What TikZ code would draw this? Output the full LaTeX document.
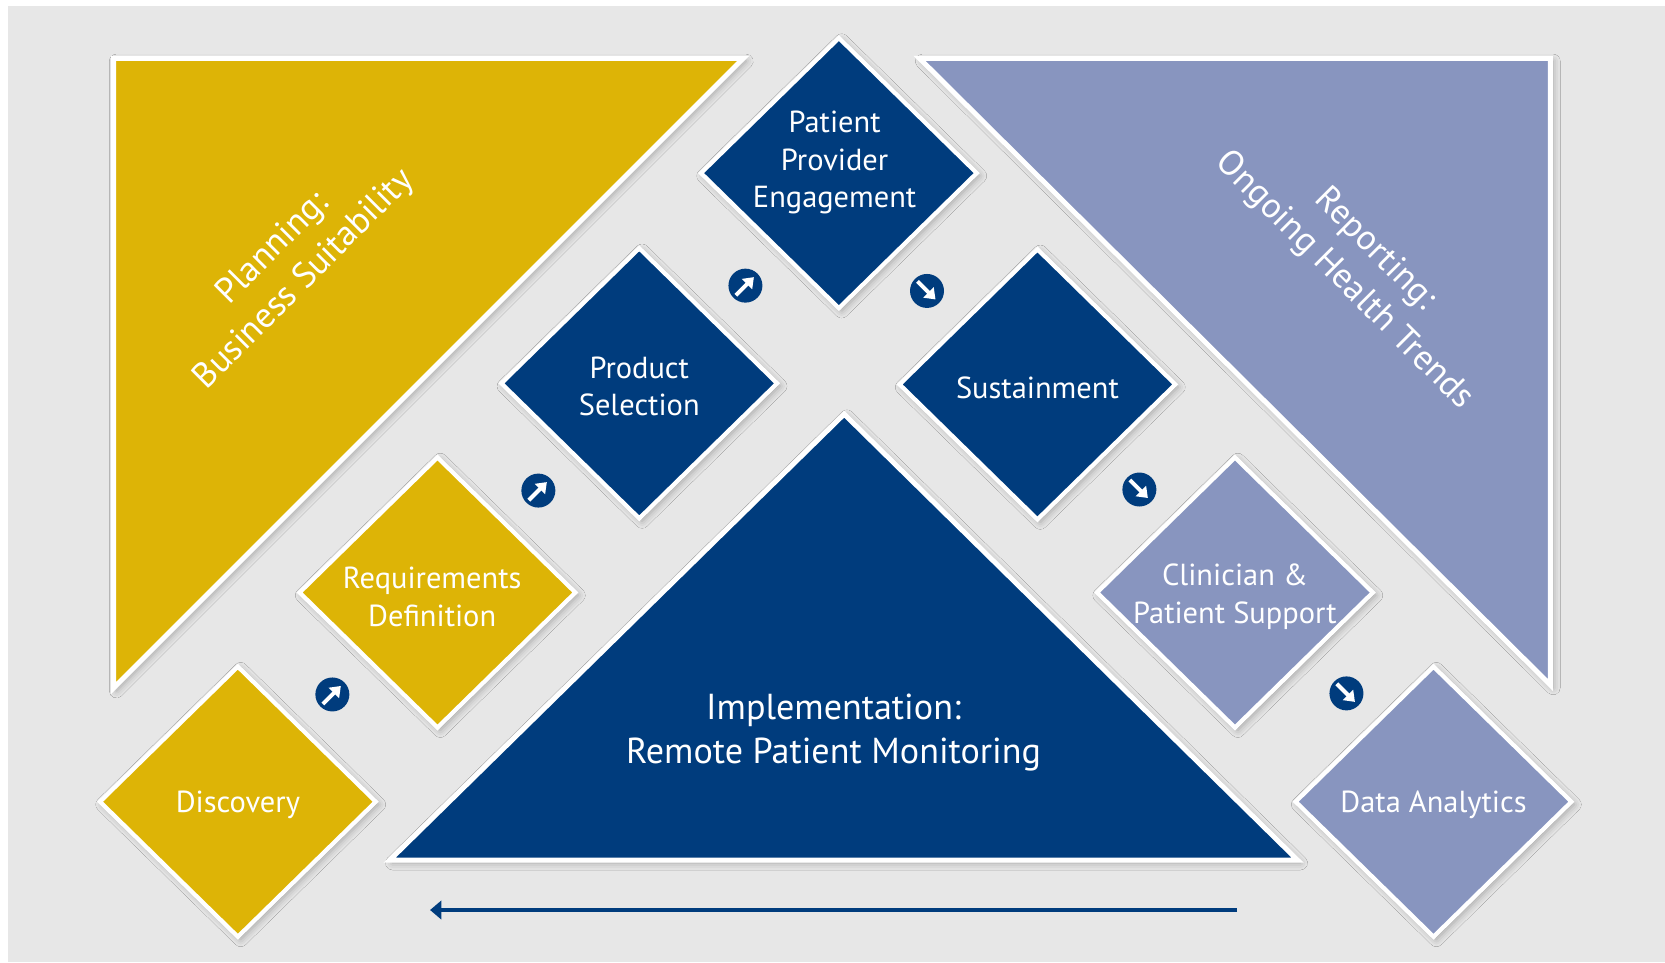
\documentclass[tikz,border=0pt]{standalone}
\usepackage{fontspec}
\setmainfont{PT Sans}
\usetikzlibrary{shapes.geometric,arrows.meta,shadows.blur,calc}

\definecolor{gold}{RGB}{221,180,6}
\definecolor{navy}{RGB}{0,60,125}
\definecolor{lilac}{RGB}{136,149,191}
\definecolor{paper}{RGB}{231,231,231}

\tikzset{every picture/.style={line width=0.75pt}}
\tikzset{
	softshade/.style={blur shadow={shadow xshift=2pt,shadow yshift=-2pt,shadow blur radius=5pt,shadow opacity=30}},
	field/.style={draw=white,line width=3.5pt,line join=miter,softshade},
	stage/.style={diamond,aspect=1,draw=white,line width=3pt,minimum width=196pt,minimum height=192pt,inner sep=0pt,softshade},
	txt/.style={text=white,align=center,inner sep=0pt,font=\fontsize{21.5}{26.5}\selectfont},
	hop/.style={circle,fill=navy,minimum size=24pt,inner sep=0pt},
	hoparrow/.style={white,line width=2.8pt,-{Triangle[length=7pt,width=10pt]}},
	flow/.style={navy,line width=3pt,-{Triangle[length=8pt,width=13pt]}}
}

\begin{document}
\begin{tikzpicture}[x=0.75pt,y=0.75pt,yscale=-1,xscale=1]
	\useasboundingbox (0,0) rectangle (1568,906);

	%Shape: Rectangle
	\fill[white] (0,0) rectangle (1568,906);
	%Shape: Rectangle
	\fill[paper] (8,6) rectangle (1568,906);

	%Shape: Right Triangle
	\draw[field,fill=gold] (107,55) -- (700,55) -- (107,648) -- cycle;
	%Shape: Right Triangle
	\draw[field,fill=lilac] (866,55) -- (1460,55) -- (1460,645) -- cycle;
	%Shape: Triangle
	\draw[field,fill=navy] (795,390) -- (1222,810) -- (367,810) -- cycle;

	%Shape: Diamond
	\node[stage,fill=navy] (engage) at (790,163) {};
	%Shape: Diamond
	\node[stage,fill=navy] (product) at (602,361) {};
	%Shape: Diamond
	\node[stage,fill=navy] (sustain) at (977,362) {};
	%Shape: Diamond
	\node[stage,fill=gold] (require) at (412,558) {};
	%Shape: Diamond
	\node[stage,fill=lilac] (support) at (1163,558) {};
	%Shape: Diamond
	\node[stage,fill=gold] (discover) at (224,755) {};
	%Shape: Diamond
	\node[stage,fill=lilac] (analytics) at (1350,755) {};

	%Shape: Circle
	\node[hop] (hopa) at (313,654) {};
	\draw[hoparrow] ($(hopa)+(-9,9)$) -- ($(hopa)+(8,-8)$);
	%Shape: Circle
	\node[hop] (hopb) at (507,462) {};
	\draw[hoparrow] ($(hopb)+(-9,9)$) -- ($(hopb)+(8,-8)$);
	%Shape: Circle
	\node[hop] (hopc) at (702,269) {};
	\draw[hoparrow] ($(hopc)+(-9,9)$) -- ($(hopc)+(8,-8)$);
	%Shape: Circle
	\node[hop] (hopd) at (873,274) {};
	\draw[hoparrow] ($(hopd)+(-9,-9)$) -- ($(hopd)+(8,8)$);
	%Shape: Circle
	\node[hop] (hope) at (1073,461) {};
	\draw[hoparrow] ($(hope)+(-9,-9)$) -- ($(hope)+(8,8)$);
	%Shape: Circle
	\node[hop] (hopf) at (1268,653) {};
	\draw[hoparrow] ($(hopf)+(-9,-9)$) -- ($(hopf)+(8,8)$);

	%Straight Lines
	\coordinate (flowstart) at (1165,857);
	\coordinate (flowend) at (405,857);
	\draw[flow] (flowstart) -- (flowend);

	% Text Node
	\node[txt] (engagetxt) at (786,153) {Patient\\Provider\\Engagement};
	% Text Node
	\node[txt] (producttxt) at (602,364) {Product\\Selection};
	% Text Node
	\node[txt] (sustaintxt) at (977,365) {Sustainment};
	% Text Node
	\node[txt] (requiretxt) at (407,562) {Requirements\\Definition};
	% Text Node
	\node[txt] (supporttxt) at (1163,562) {Clinician \&\\Patient Support};
	% Text Node
	\node[txt] (discovertxt) at (224,758) {Discovery};
	% Text Node
	\node[txt] (analyticstxt) at (1350,758) {Data Analytics};
	% Text Node
	\node[txt,font=\fontsize{25.5}{31.5}\selectfont] (impltxt) at (785,690) {Implementation:\\Remote Patient Monitoring};
	% Text Node
	\node[txt,font=\fontsize{25}{31}\selectfont,rotate=45] (plantxt) at (272,249) {Planning:\\Business Suitability};
	% Text Node
	\node[txt,font=\fontsize{25}{31}\selectfont,rotate=-45] (reporttxt) at (1280,250) {Reporting:\\Ongoing Health Trends};

\end{tikzpicture}
\end{document}
